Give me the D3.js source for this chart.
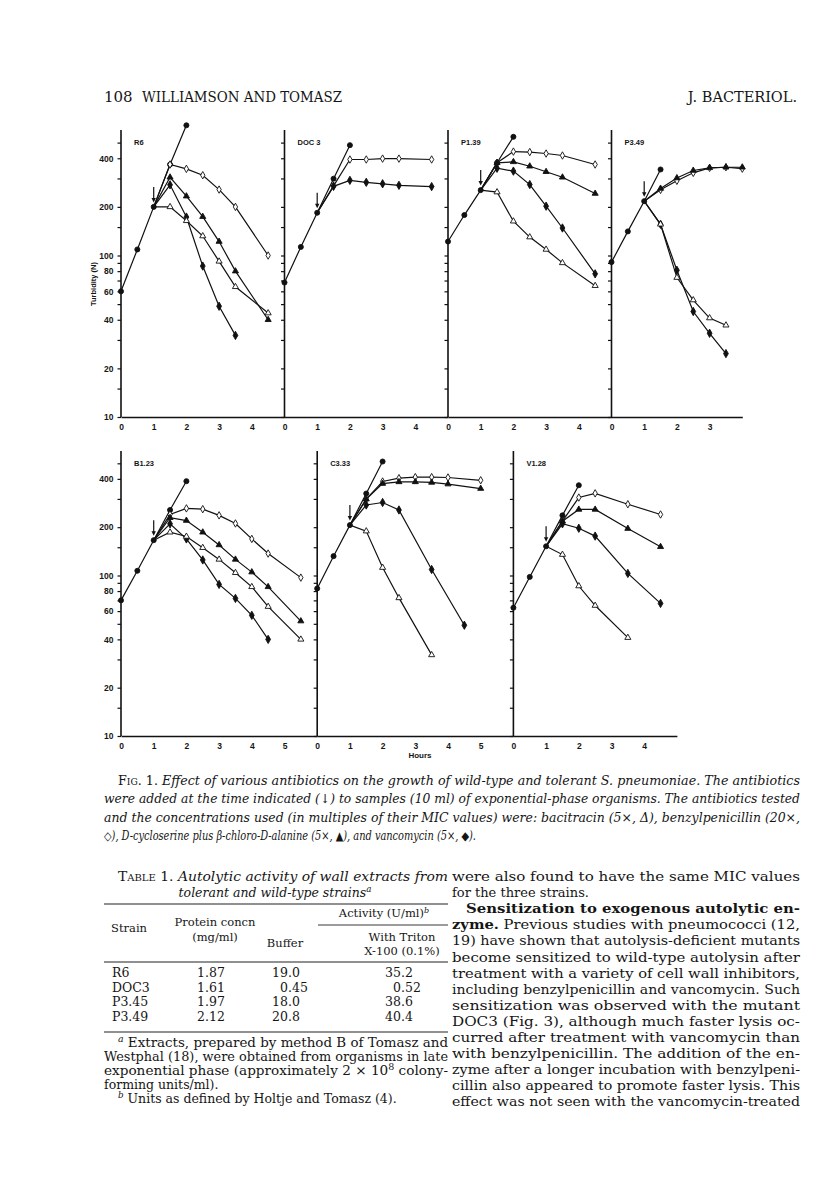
<!DOCTYPE html>
<html>
<head>
<meta charset="utf-8">
<script src="https://cdn.jsdelivr.net/npm/d3@7/dist/d3.min.js"></script>
<style>
  body { margin: 0; background: #fff; }
  svg text { fill: #151515; }
</style>
</head>
<body>
<svg id="page" width="816" height="1204"></svg>
<script>
// turbidity (N) against hours
// control = untreated culture (filled circles)
const r6Control = [[0, 60], [0.5, 109], [1, 200], [1.5, 366], [2, 640]];
const r6Pen = [[1, 200], [1.5, 366], [2, 344], [2.5, 314], [3, 256], [3.5, 200], [4.5, 100]];
const r6Cyc = [[1, 200], [1.5, 305], [2, 233], [2.5, 174], [3, 122], [3.5, 80], [4.5, 40]];
const r6Van = [[1, 200], [1.5, 274], [2, 173], [2.5, 86], [3, 48.5], [3.5, 32]];
const r6Bac = [[1, 200], [1.5, 200], [2, 164], [2.5, 132], [3, 92], [3.5, 64], [4.5, 44]];

const docControl = [[0, 68], [0.5, 113], [1, 184], [1.5, 299], [2, 482]];
const docPen = [[1, 184], [1.5, 270], [2, 393], [2.5, 393], [3, 398], [3.5, 398], [4.5, 393]];
const docVan = [[1, 184], [1.5, 268], [2, 292], [2.5, 284], [3, 278], [3.5, 272], [4.5, 267]];

const p139Control = [[0, 122], [0.5, 178], [1, 254], [1.5, 375], [2, 543]];
const p139Pen = [[1, 254], [1.5, 375], [2, 440], [2.5, 437], [3, 428], [3.5, 416], [4.5, 366]];
const p139Cyc = [[1, 254], [1.5, 375], [2, 380], [2.5, 357], [3, 330], [3.5, 305], [4.5, 242]];
const p139Van = [[1, 254], [1.5, 347], [2, 333], [2.5, 275], [3, 202], [3.5, 148], [4.5, 77]];
const p139Bac = [[1, 254], [1.5, 247], [2, 163], [2.5, 130], [3, 109], [3.5, 90], [4.5, 65]];

const p349Control = [[0, 91], [0.5, 141], [1, 217], [1.5, 341]];
const p349Pen = [[1, 217], [1.5, 255], [2, 290], [2.5, 325], [3, 349], [3.5, 352], [4, 345]];
const p349Cyc = [[1, 217], [1.5, 260], [2, 302], [2.5, 336], [3, 349], [3.5, 352], [4, 352]];
const p349Van = [[1, 217], [1.5, 156], [2, 81], [2.5, 45], [3, 33], [3.5, 24.7]];
const p349Bac = [[1, 217], [1.5, 156], [2, 73], [2.5, 53], [3, 41], [3.5, 37]];

const b123Control = [[0, 70], [0.5, 107], [1, 166], [1.5, 256], [2, 387]];
const b123Pen = [[1, 166], [1.5, 240], [2, 262], [2.5, 259], [3, 237], [3.5, 211], [4, 169], [4.5, 137], [5.5, 97]];
const b123Cyc = [[1, 166], [1.5, 229], [2, 220], [2.5, 186], [3, 155], [3.5, 126], [4, 105], [4.5, 85], [5.5, 52]];
const b123Van = [[1, 166], [1.5, 210], [2, 169], [2.5, 125], [3, 88], [3.5, 72], [4, 56.5], [4.5, 40]];
const b123Bac = [[1, 166], [1.5, 186], [2, 175], [2.5, 149], [3, 126], [3.5, 104], [4, 85], [4.5, 64], [5.5, 40]];

const c333Control = [[0, 83], [0.5, 132], [1, 206], [1.5, 324], [2, 513]];
const c333Pen = [[1, 206], [1.5, 299], [2, 385], [2.5, 404], [3, 410], [3.5, 410], [4, 408], [5, 392]];
const c333Cyc = [[1, 206], [1.5, 299], [2, 374], [2.5, 383], [3, 383], [3.5, 380], [4, 371], [5, 348]];
const c333Van = [[1, 206], [1.5, 275], [2, 285], [2.5, 256], [3.5, 109], [4.5, 49]];
const c333Bac = [[1, 206], [1.5, 189], [2, 112], [2.5, 72.5], [3.5, 32]];

const v128Control = [[0, 63], [0.5, 98], [1, 152], [1.5, 237], [2, 365]];
const v128Pen = [[1, 152], [1.5, 218], [2, 306], [2.5, 325], [3.5, 278], [4.5, 240]];
const v128Cyc = [[1, 152], [1.5, 218], [2, 258], [2.5, 258], [3.5, 196], [4.5, 151]];
const v128Van = [[1, 152], [1.5, 210], [2, 197], [2.5, 176], [3.5, 103], [4.5, 67]];
const v128Bac = [[1, 152], [1.5, 135], [2, 86], [2.5, 65], [3.5, 41]];

const strainNames = ['R6', 'DOC 3', 'P1.39', 'P3.49', 'B1.23', 'C3.33', 'V1.28'];
const panelHours = [5, 5, 5, 4, 6, 6, 5];
const hourTicks = [[0, 1, 2, 3, 4], [0, 1, 2, 3, 4], [0, 1, 2, 3, 4], [0, 1, 2, 3],
  [0, 1, 2, 3, 4, 5], [0, 1, 2, 3, 4, 5], [0, 1, 2, 3, 4]];
const yTickValues = [10, 15, 20, 30, 40, 50, 60, 70, 80, 90, 100, 150, 200, 300, 400, 500];
const yTickLabels = [10, 20, 40, 60, 80, 100, 200, 400];

// table 1
const tableStrains = ['R6', 'DOC3', 'P3.45', 'P3.49'];
const tableProtein = ['1.87', '1.61', '1.97', '2.12'];
const tableBuffer = ['19.0', '0.45', '18.0', '20.8'];
const tableTriton = ['35.2', '0.52', '38.6', '40.4'];

const svg = d3.select('#page');
svg.append('rect').attr('width', 816).attr('height', 1204).attr('fill', '#fff');

const hourPx = 32.7;
const rows = [
  { top: 130, y10: 417, decade: 161.5, panels: [0, 1, 2, 3] },
  { top: 451, y10: 736, decade: 160.5, panels: [4, 5, 6] }
];

const panelSeries = [
  [r6Control, r6Pen, r6Cyc, r6Van, r6Bac],
  [docControl, docPen, null, docVan, null],
  [p139Control, p139Pen, p139Cyc, p139Van, p139Bac],
  [p349Control, p349Pen, p349Cyc, p349Van, p349Bac],
  [b123Control, b123Pen, b123Cyc, b123Van, b123Bac],
  [c333Control, c333Pen, c333Cyc, c333Van, c333Bac],
  [v128Control, v128Pen, v128Cyc, v128Van, v128Bac]
];

// marker per series: control, penicillin, cycloserine, vancomycin, bacitracin
const markers = [
  { type: d3.symbolCircle, size: 20, fill: '#111' },
  { type: d3.symbolDiamond, size: 16, fill: '#fff' },
  { type: d3.symbolTriangle, size: 16, fill: '#111' },
  { type: d3.symbolDiamond, size: 20, fill: '#111' },
  { type: d3.symbolTriangle, size: 16, fill: '#fff' }
];

const chart = svg.append('g').attr('class', 'figure');

rows.forEach((row) => {
  const y = d3.scaleLog()
    .domain([10, 600])
    .range([row.y10, row.y10 - Math.log10(60) * row.decade]);

  let x0 = 121;
  row.panels.forEach((pi, k) => {
    const hours = panelHours[pi];
    const x = d3.scaleLinear().domain([0, hours]).range([x0, x0 + hours * hourPx]);
    const g = chart.append('g');

    // x axis
    const xa = g.append('g')
      .attr('transform', `translate(0,${row.y10})`)
      .call(d3.axisBottom(x)
        .tickValues(hourTicks[pi])
        .tickFormat(d3.format('d'))
        .tickSize(0)
        .tickPadding(7)
        .tickSizeOuter(0));
    xa.select('.domain').attr('stroke', '#111').attr('stroke-width', 1.6);
    xa.selectAll('text')
      .style('font-family', '"Liberation Sans", Arial, sans-serif')
      .style('font-weight', 'bold')
      .style('font-size', '8.5px');

    // y axis
    const ya = g.append('g')
      .attr('transform', `translate(${x0},0)`)
      .call(d3.axisLeft(y)
        .tickValues(yTickValues)
        .tickSize(3.5)
        .tickSizeOuter(0)
        .tickPadding(4)
        .tickFormat((d) => (k === 0 && yTickLabels.includes(d) ? d : '')));
    ya.select('.domain')
      .attr('d', `M0,${row.y10}V${row.top}`)
      .attr('stroke', '#111')
      .attr('stroke-width', 1.6);
    ya.selectAll('line').attr('stroke', '#111').attr('stroke-width', 1.2);
    ya.selectAll('text')
      .style('font-family', '"Liberation Sans", Arial, sans-serif')
      .style('font-weight', 'bold')
      .style('font-size', '8.5px');

    // strain label
    g.append('text')
      .attr('x', x0 + 13)
      .attr('y', row.top + 15)
      .style('font-family', '"Liberation Sans", Arial, sans-serif')
      .style('font-weight', 'bold')
      .style('font-size', '7.5px')
      .text(strainNames[pi]);

    const line = d3.line().x((d) => x(d[0])).y((d) => y(d[1]));

    // lines first, markers on top
    panelSeries[pi].forEach((s) => {
      if (!s) return;
      g.append('path')
        .attr('d', line(s))
        .attr('fill', 'none')
        .attr('stroke', '#111')
        .attr('stroke-width', 1.2);
    });
    panelSeries[pi].forEach((s, si) => {
      if (!s) return;
      const m = markers[si];
      const pts = si === 0 ? s : s.slice(1);
      g.selectAll(null)
        .data(pts)
        .join('path')
        .attr('transform', (d) => `translate(${x(d[0])},${y(d[1])})`)
        .attr('d', d3.symbol().type(m.type).size(m.size))
        .attr('fill', m.fill)
        .attr('stroke', '#111')
        .attr('stroke-width', 0.9);
    });

    // arrow: time of antibiotic addition
    const at = panelSeries[pi][0].find((d) => d[0] === 1);
    const ax = x(at[0]);
    const ay = y(at[1]);
    g.append('line')
      .attr('x1', ax).attr('x2', ax)
      .attr('y1', ay - 20).attr('y2', ay - 8)
      .attr('stroke', '#111').attr('stroke-width', 1.2);
    g.append('path')
      .attr('d', `M${ax - 2.2},${ay - 9}L${ax + 2.2},${ay - 9}L${ax},${ay - 4.5}Z`)
      .attr('fill', '#111');

    x0 += hours * hourPx;
  });
});

// y title on the upper row
chart.append('text')
  .attr('transform', 'translate(96,284) rotate(-90)')
  .attr('text-anchor', 'middle')
  .style('font-family', '"Liberation Sans", Arial, sans-serif')
  .style('font-weight', 'bold')
  .style('font-size', '7.5px')
  .text('Turbidity (N)');

chart.append('text')
  .attr('x', 420)
  .attr('y', 758)
  .attr('text-anchor', 'middle')
  .style('font-family', '"Liberation Sans", Arial, sans-serif')
  .style('font-weight', 'bold')
  .style('font-size', '8px')
  .text('Hours');

// ---- page text ----
const serif = '"DejaVu Serif", "Liberation Serif", serif';

function textLine(x, y, parts, opts = {}) {
  const t = svg.append('text')
    .attr('x', x)
    .attr('y', y)
    .attr('text-anchor', opts.anchor || 'start')
    .style('font-family', serif)
    .style('font-size', (opts.size || 12.5) + 'px');
  if (opts.italic) t.style('font-style', 'italic');
  if (opts.width) {
    t.attr('textLength', opts.width).attr('lengthAdjust', opts.adjust || 'spacingAndGlyphs');
  }
  (Array.isArray(parts) ? parts : [{ t: parts }]).forEach((p) => {
    const s = t.append('tspan').text(p.t);
    if (p.i) s.style('font-style', 'italic');
    if (p.b) s.style('font-weight', 'bold');
    if (p.sc) s.style('font-variant', 'small-caps');
    if (p.sup) s.attr('baseline-shift', 'super').style('font-size', '70%');
  });
  return t;
}

// running head
textLine(104, 102, '108', { size: 15 });
textLine(142, 102, 'WILLIAMSON AND TOMASZ', { size: 14.5, width: 200 });
textLine(797, 102, 'J. BACTERIOL.', { size: 14.5, anchor: 'end' });

// figure legend
textLine(118, 785, [
  { t: 'Fig. 1. ', sc: true },
  { t: 'Effect of various antibiotics on the growth of wild-type and tolerant S. pneumoniae. The antibiotics', i: true }
], { size: 12.5, width: 682 });
textLine(104, 803,
  'were added at the time indicated (\u2193) to samples (10 ml) of exponential-phase organisms. The antibiotics tested',
  { size: 12.5, width: 696, italic: true });
textLine(104, 822,
  'and the concentrations used (in multiples of their MIC values) were: bacitracin (5\u00d7, \u0394), benzylpenicillin (20\u00d7,',
  { size: 12.5, width: 696, italic: true });
textLine(104, 840,
  '\u25c7), D-cycloserine plus \u03b2-chloro-D-alanine (5\u00d7, \u25b2), and vancomycin (5\u00d7, \u25c6).',
  { size: 12, width: 372, italic: true });

// table 1
textLine(118, 881, [
  { t: 'Table 1. ', sc: true },
  { t: 'Autolytic activity of wall extracts from', i: true }
], { size: 12.5, width: 330 });
textLine(275, 897, [
  { t: 'tolerant and wild-type strains', i: true },
  { t: 'a', i: true, sup: true }
], { size: 12.5, anchor: 'middle' });

function rule(x1, x2, y, w) {
  svg.append('line')
    .attr('x1', x1).attr('x2', x2).attr('y1', y).attr('y2', y)
    .attr('stroke', '#222').attr('stroke-width', w || 1);
}
rule(104, 448, 904, 1.1);
rule(318, 448, 925, 0.9);
rule(104, 448, 962, 1.1);
rule(104, 448, 1032, 1.1);

textLine(384, 917, [{ t: 'Activity (U/ml)' }, { t: 'b', i: true, sup: true }], { size: 11.5, anchor: 'middle' });
textLine(129, 932, 'Strain', { size: 11.5, anchor: 'middle' });
textLine(215, 926, 'Protein concn', { size: 11.5, anchor: 'middle' });
textLine(215, 941, '(mg/ml)', { size: 11.5, anchor: 'middle' });
textLine(285, 947, 'Buffer', { size: 11.5, anchor: 'middle' });
textLine(402, 941, 'With Triton', { size: 11.5, anchor: 'middle' });
textLine(402, 955, 'X-100 (0.1%)', { size: 11.5, anchor: 'middle' });

// numbers lined up on the decimal point, as set in the print
const decimalX = (s, pointX) => pointX - s.indexOf('.') * 8;
const rowY = d3.scalePoint().domain(tableStrains).range([977, 1021]);
tableStrains.forEach((s, i) => {
  textLine(112, rowY(s), s, { size: 12.5 });
  textLine(211, rowY(s), tableProtein[i], { size: 12.5, anchor: 'middle' });
  textLine(decimalX(tableBuffer[i], 288), rowY(s), tableBuffer[i], { size: 12.5 });
  textLine(decimalX(tableTriton[i], 401), rowY(s), tableTriton[i], { size: 12.5 });
});

// table footnotes
textLine(118, 1047, [{ t: 'a', i: true, sup: true }, { t: ' Extracts, prepared by method B of Tomasz and' }], { size: 12.5, width: 330 });
textLine(104, 1061, 'Westphal (18), were obtained from organisms in late', { size: 12.5, width: 344 });
textLine(104, 1075, [
  { t: 'exponential phase (approximately 2 \u00d7 10' },
  { t: '8', sup: true },
  { t: ' colony-' }
], { size: 12.5, width: 344 });
textLine(104, 1089, 'forming units/ml).', { size: 12.5 });
textLine(118, 1103, [{ t: 'b', i: true, sup: true }, { t: ' Units as defined by Holtje and Tomasz (4).' }], { size: 12.5 });

// right-hand column of running text
const bodyLines = [
  [[{ t: 'were also found to have the same MIC values' }], 452, true],
  [[{ t: 'for the three strains.' }], 452, false],
  [[{ t: 'Sensitization to exogenous autolytic en-', b: true }], 466, true],
  [[{ t: 'zyme.', b: true }, { t: ' Previous studies with pneumococci (12,' }], 452, true],
  [[{ t: '19) have shown that autolysis-deficient mutants' }], 452, true],
  [[{ t: 'become sensitized to wild-type autolysin after' }], 452, true],
  [[{ t: 'treatment with a variety of cell wall inhibitors,' }], 452, true],
  [[{ t: 'including benzylpenicillin and vancomycin. Such' }], 452, true],
  [[{ t: 'sensitization was observed with the mutant' }], 452, true],
  [[{ t: 'DOC3 (Fig. 3), although much faster lysis oc-' }], 452, true],
  [[{ t: 'curred after treatment with vancomycin than' }], 452, true],
  [[{ t: 'with benzylpenicillin. The addition of the en-' }], 452, true],
  [[{ t: 'zyme after a longer incubation with benzylpeni-' }], 452, true],
  [[{ t: 'cillin also appeared to promote faster lysis. This' }], 452, true],
  [[{ t: 'effect was not seen with the vancomycin-treated' }], 452, true]
];
bodyLines.forEach((l, i) => {
  const opts = { size: 13 };
  if (l[2]) { opts.width = 800 - l[1]; opts.adjust = 'spacingAndGlyphs'; }
  textLine(l[1], 881 + i * 16.1, l[0], opts);
});
</script>
</body>
</html>
